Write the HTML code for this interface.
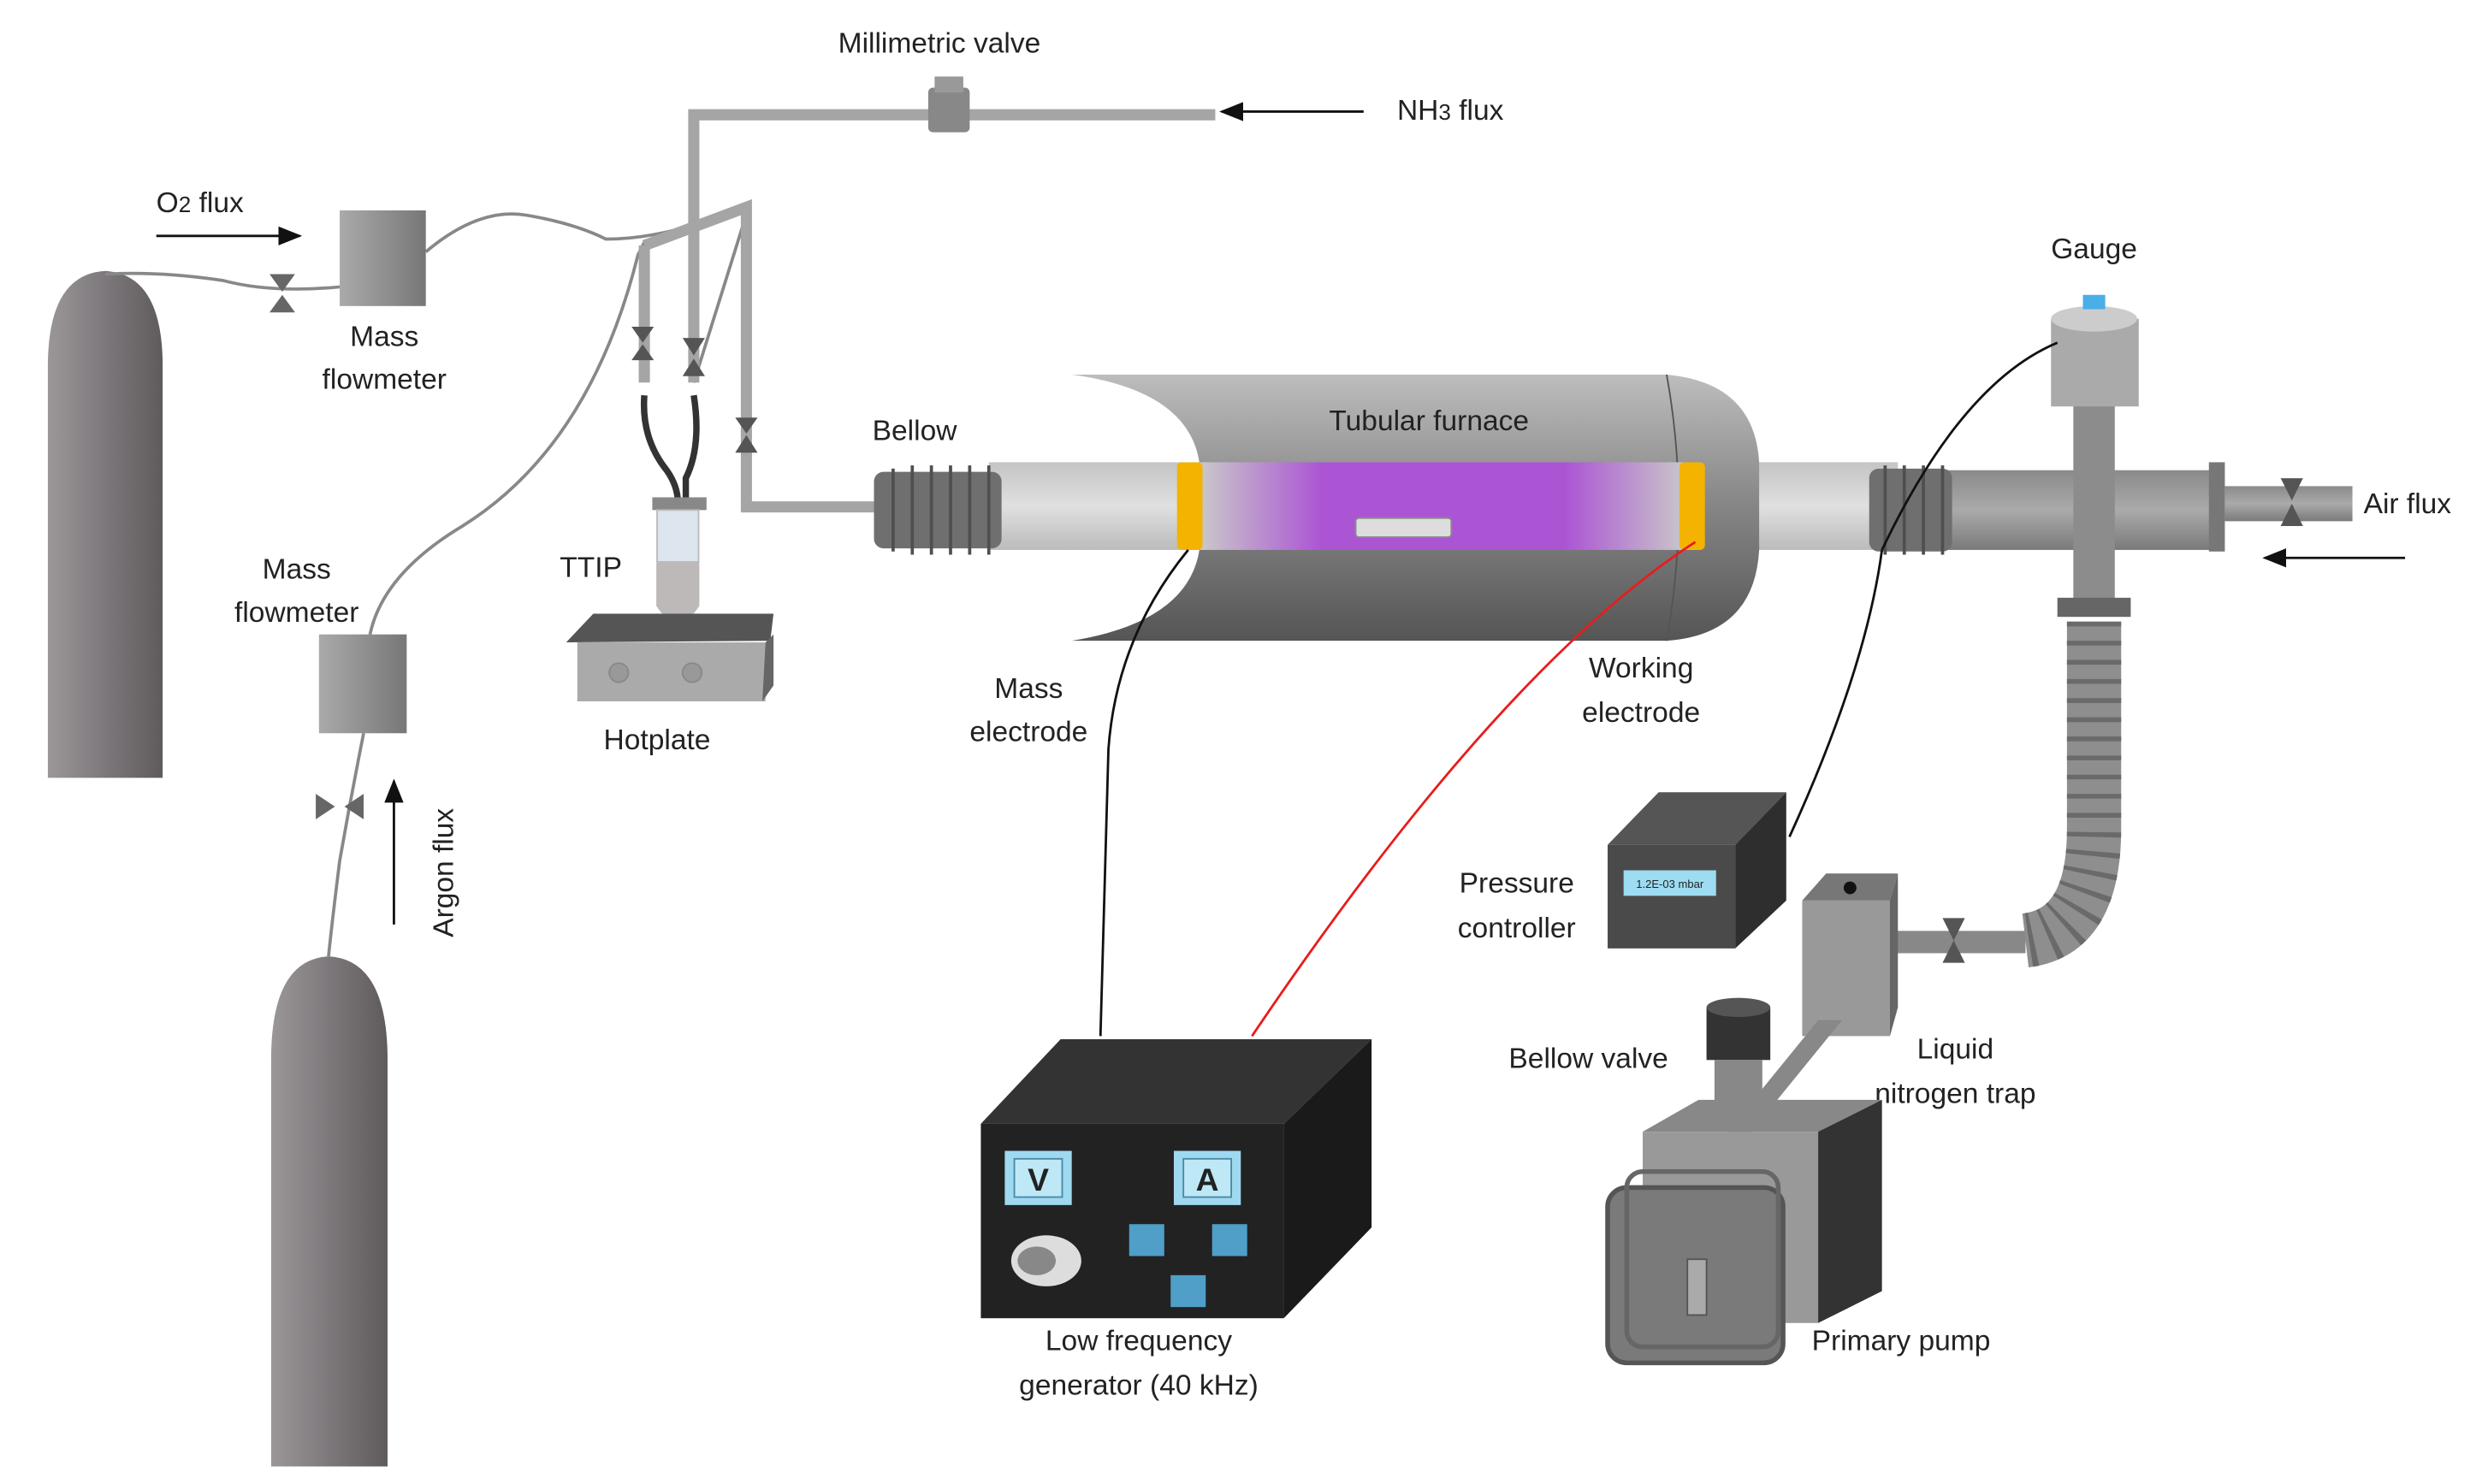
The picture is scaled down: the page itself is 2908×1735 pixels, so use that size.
<!DOCTYPE html>
<html><head><meta charset="utf-8"><style>
html,body{margin:0;padding:0;background:#fff;}
svg{display:block;}
text{font-family:"Liberation Sans",sans-serif;fill:#222;font-size:18px;}
</style></head><body>
<svg width="2908" height="1735" viewBox="0 0 1560 931" preserveAspectRatio="none" xmlns="http://www.w3.org/2000/svg">
<defs>
<linearGradient id="cyl" x1="0" x2="1"><stop offset="0" stop-color="#9b9799"/><stop offset="0.5" stop-color="#7d787b"/><stop offset="1" stop-color="#5f5b5d"/></linearGradient>
<linearGradient id="box" x1="0" x2="1"><stop offset="0" stop-color="#aaa"/><stop offset="1" stop-color="#777"/></linearGradient>
<linearGradient id="furn" x1="0" y1="0" x2="0" y2="1"><stop offset="0" stop-color="#bdbdbd"/><stop offset="0.45" stop-color="#8a8a8a"/><stop offset="1" stop-color="#555"/></linearGradient>
<linearGradient id="purp" x1="0" x2="1"><stop offset="0" stop-color="#c9c9c9"/><stop offset="0.25" stop-color="#ac55d4"/><stop offset="0.75" stop-color="#ac55d4"/><stop offset="1" stop-color="#c9c9c9"/></linearGradient>
<linearGradient id="tube" x1="0" y1="0" x2="0" y2="1"><stop offset="0" stop-color="#c4c4c4"/><stop offset="0.5" stop-color="#e0e0e0"/><stop offset="1" stop-color="#bbb"/></linearGradient>
<linearGradient id="pipe" x1="0" y1="0" x2="0" y2="1"><stop offset="0" stop-color="#8a8a8a"/><stop offset="0.5" stop-color="#aaa"/><stop offset="1" stop-color="#7a7a7a"/></linearGradient>
<marker id="ah" markerWidth="10" markerHeight="8" refX="9" refY="4" orient="auto"><path d="M0,0 L10,4 L0,8z" fill="#111"/></marker>
</defs>

<path d="M30,488 L30,230 Q30,172 66,170 Q102,172 102,230 L102,488 Z" fill="url(#cyl)"/>
<path d="M170,920 L170,665 Q170,602 206,600 Q243,602 243,665 L243,920 Z" fill="url(#cyl)"/>

<g fill="none" stroke="#888" stroke-width="2">
<path d="M66,172 Q100,170 140,176 Q170,184 213,180"/>
<path d="M267,158 Q300,130 330,135 Q360,140 380,150 Q420,150 470,128"/>
<path d="M435,240 L470,128"/>
<path d="M232,398 Q240,360 290,330 Q370,280 400,160 L404,152"/>
<path d="M228,460 Q220,500 213,540 Q208,580 206,600"/>
</g>

<line x1="98" y1="148" x2="188" y2="148" stroke="#111" stroke-width="1.5" marker-end="url(#ah)"/>
<text x="98" y="133">O<tspan style="font-size:14px">2</tspan> flux</text>
<line x1="247" y1="580" x2="247" y2="490" stroke="#111" stroke-width="1.5" marker-end="url(#ah)"/>
<text transform="translate(284,588) rotate(-90)">Argon flux</text>
<line x1="855" y1="70" x2="766" y2="70" stroke="#111" stroke-width="1.5" marker-end="url(#ah)"/>
<text x="876" y="75">NH<tspan style="font-size:14px">3</tspan> flux</text>
<line x1="1508" y1="350" x2="1420" y2="350" stroke="#111" stroke-width="1.5" marker-end="url(#ah)"/>

<g fill="#666">
<path d="M169,172 L185,172 L177,183 Z M169,196 L185,196 L177,185 Z"/>
<path d="M198,498 L198,514 L210,506 Z M228,498 L228,514 L216,506 Z"/>
</g>

<rect x="213" y="132" width="54" height="60" fill="url(#box)"/>
<rect x="200" y="398" width="55" height="62" fill="url(#box)"/>
<text x="241" y="217" text-anchor="middle">Mass</text><text x="241" y="244" text-anchor="middle">flowmeter</text>
<text x="186" y="363" text-anchor="middle">Mass</text><text x="186" y="390" text-anchor="middle">flowmeter</text>

<g fill="none" stroke="#a5a5a5" stroke-width="7">
<path d="M435,240 L435,72 L762,72"/>
<path d="M404,154 L468,130 L468,318 L550,318"/>
<path d="M404,154 L404,240"/>
</g>
<g fill="#555">
<path d="M396,205 L410,205 L403,215 Z M396,226 L410,226 L403,216 Z"/>
<path d="M428,212 L442,212 L435,223 Z M428,236 L442,236 L435,225 Z"/>
<path d="M461,262 L475,262 L468,272 Z M461,284 L475,284 L468,273 Z"/>
</g>
<path d="M404,248 Q402,275 418,295 Q425,305 425,315 M435,248 Q440,280 430,300 L430,315" stroke="#333" stroke-width="4" fill="none"/>
<rect x="582" y="55" width="26" height="28" rx="3" fill="#888"/>
<rect x="586" y="48" width="18" height="10" fill="#999"/>
<text x="589" y="33" text-anchor="middle">Millimetric valve</text>

<rect x="409" y="312" width="34" height="8" fill="#888"/>
<path d="M412,320 L412,380 Q425,400 438,380 L438,320 Z" fill="#dde6ee" stroke="#bbb"/>
<path d="M412,352 L438,352 L438,380 Q425,400 412,380 Z" fill="#bdb9b9"/>
<text x="351" y="362">TTIP</text>
<path d="M355,403 L372,385 L485,385 L483,402 Z" fill="#555"/>
<rect x="362" y="403" width="118" height="37" fill="#aaa"/>
<path d="M480,403 L485,398 L485,430 L478,440 Z" fill="#666"/>
<circle cx="388" cy="422" r="6" fill="#999" stroke="#888"/><circle cx="434" cy="422" r="6" fill="#999" stroke="#888"/>
<text x="412" y="470" text-anchor="middle">Hotplate</text>

<rect x="620" y="290" width="570" height="55" fill="url(#tube)"/>
<rect x="1190" y="295" width="200" height="50" fill="url(#pipe)"/>
<rect x="548" y="296" width="80" height="48" rx="6" fill="#6f6f6f"/>
<g stroke="#4f4f4f" stroke-width="2">
<line x1="560" y1="294" x2="560" y2="346"/><line x1="572" y1="292" x2="572" y2="348"/><line x1="584" y1="292" x2="584" y2="348"/><line x1="596" y1="292" x2="596" y2="348"/><line x1="608" y1="292" x2="608" y2="348"/><line x1="620" y1="292" x2="620" y2="348"/>
</g>
<text x="547" y="276">Bellow</text>
<path d="M672,235 L1045,235 Q1100,240 1103,290 L1103,345 Q1100,398 1045,402 L672,402 Q745,390 752,345 L752,290 Q745,245 672,235 Z" fill="url(#furn)"/>
<path d="M1045,235 Q1060,318 1045,402" stroke="#555" fill="none"/>
<rect x="752" y="290" width="306" height="55" fill="url(#purp)"/>
<rect x="850" y="325" width="60" height="12" rx="2" fill="#ddd" stroke="#888"/>
<rect x="738" y="290" width="16" height="55" rx="3" fill="#f3b300"/>
<rect x="1053" y="290" width="16" height="55" rx="3" fill="#f3b300"/>
<text x="896" y="270" text-anchor="middle">Tubular  furnace</text>
<rect x="1172" y="294" width="52" height="52" rx="6" fill="#6f6f6f"/>
<g stroke="#4f4f4f" stroke-width="2"><line x1="1182" y1="292" x2="1182" y2="348"/><line x1="1194" y1="292" x2="1194" y2="348"/><line x1="1206" y1="292" x2="1206" y2="348"/><line x1="1218" y1="292" x2="1218" y2="348"/></g>
<rect x="1385" y="290" width="10" height="56" fill="#777"/>
<rect x="1395" y="305" width="80" height="22" fill="url(#pipe)"/>
<path d="M1430,300 L1444,300 L1437,314 Z M1430,330 L1444,330 L1437,316 Z" fill="#555"/>
<text x="1482" y="322">Air flux</text>
<rect x="1300" y="250" width="26" height="130" fill="#8c8c8c"/>
<rect x="1286" y="200" width="55" height="55" fill="#aaa"/>
<ellipse cx="1313" cy="200" rx="27" ry="8" fill="#ccc"/>
<rect x="1306" y="185" width="14" height="9" fill="#4aaee8"/>
<text x="1313" y="162" text-anchor="middle">Gauge</text>
<rect x="1290" y="375" width="46" height="12" fill="#666"/>
<path d="M1313,390 L1313,520 Q1313,585 1270,590" stroke="#8e8e8e" stroke-width="34" fill="none"/>
<path d="M1313,390 L1313,520 Q1313,585 1270,590" stroke="#6a6a6a" stroke-width="34" stroke-dasharray="3 9" fill="none"/>
<rect x="1185" y="584" width="85" height="14" fill="#888"/>
<path d="M1218,576 L1232,576 L1225,590 Z M1218,604 L1232,604 L1225,590 Z" fill="#555"/>
<path d="M745,345 Q700,400 695,470 L690,650" stroke="#111" stroke-width="1.5" fill="none"/>
<path d="M1063,340 Q940,420 785,650" stroke="#e81c1c" stroke-width="1.5" fill="none"/>
<path d="M1290,215 Q1230,240 1180,345" stroke="#111" stroke-width="1.5" fill="none"/>
<path d="M1180,345 Q1170,420 1122,525" stroke="#111" stroke-width="1.5" fill="none"/>
<text x="645" y="438" text-anchor="middle">Mass</text><text x="645" y="465" text-anchor="middle">electrode</text>
<text x="1029" y="425" text-anchor="middle">Working</text><text x="1029" y="453" text-anchor="middle">electrode</text>
<path d="M1008,530 L1040,497 L1120,497 L1088,530 Z" fill="#555"/>
<rect x="1008" y="530" width="80" height="65" fill="#4a4a4a"/>
<path d="M1088,530 L1120,497 L1120,565 L1088,595 Z" fill="#2e2e2e"/>
<rect x="1018" y="546" width="58" height="16" fill="#9ddcf2"/>
<text x="1047" y="557" text-anchor="middle" style="font-size:7px">1.2E-03 mbar</text>
<text x="951" y="560" text-anchor="middle">Pressure</text><text x="951" y="588" text-anchor="middle">controller</text>
<rect x="1130" y="565" width="55" height="85" fill="#999"/>
<path d="M1130,565 L1145,548 L1190,548 L1185,565 Z" fill="#777"/>
<path d="M1185,565 L1190,548 L1190,632 L1185,650 Z" fill="#666"/>
<circle cx="1160" cy="557" r="4" fill="#111"/>
<path d="M1140,640 L1155,640 L1090,720 L1075,720 Z" fill="#888"/>
<text x="1226" y="664" text-anchor="middle">Liquid</text><text x="1226" y="692" text-anchor="middle">nitrogen trap</text>
<rect x="1070" y="632" width="40" height="33" fill="#333"/>
<ellipse cx="1090" cy="632" rx="20" ry="6" fill="#555"/>
<rect x="1075" y="665" width="30" height="45" fill="#888"/>
<text x="996" y="670" text-anchor="middle">Bellow valve</text>
<path d="M1030,710 L1065,690 L1180,690 L1140,710 Z" fill="#888"/>
<rect x="1030" y="710" width="110" height="120" fill="#999"/>
<path d="M1140,710 L1180,690 L1180,810 L1140,830 Z" fill="#333"/>
<rect x="1008" y="745" width="110" height="110" rx="12" fill="#7a7a7a" stroke="#555" stroke-width="3"/>
<rect x="1020" y="735" width="95" height="110" rx="10" fill="none" stroke="#666" stroke-width="3"/>
<rect x="1058" y="790" width="12" height="35" fill="#aaa" stroke="#555"/>
<text x="1192" y="847" text-anchor="middle">Primary pump</text>
<path d="M615,705 L665,652 L860,652 L805,705 Z" fill="#333"/>
<rect x="615" y="705" width="190" height="122" fill="#222"/>
<path d="M805,705 L860,652 L860,770 L805,827 Z" fill="#1a1a1a"/>
<rect x="630" y="722" width="42" height="34" fill="#9fd9f0"/><rect x="636" y="727" width="30" height="24" fill="#bfe8f6" stroke="#4a8aa8"/>
<text x="651" y="747" text-anchor="middle" style="font-size:20px;font-weight:bold;fill:#222">V</text>
<rect x="736" y="722" width="42" height="34" fill="#9fd9f0"/><rect x="742" y="727" width="30" height="24" fill="#bfe8f6" stroke="#4a8aa8"/>
<text x="757" y="747" text-anchor="middle" style="font-size:20px;font-weight:bold;fill:#222">A</text>
<ellipse cx="656" cy="791" rx="22" ry="16" fill="#ddd"/><ellipse cx="650" cy="791" rx="12" ry="9" fill="#888"/>
<rect x="708" y="768" width="22" height="20" fill="#4f9fc8"/><rect x="760" y="768" width="22" height="20" fill="#4f9fc8"/><rect x="734" y="800" width="22" height="20" fill="#4f9fc8"/>
<text x="714" y="847" text-anchor="middle">Low frequency</text><text x="714" y="875" text-anchor="middle">generator (40 kHz)</text>
</svg>
</body></html>
